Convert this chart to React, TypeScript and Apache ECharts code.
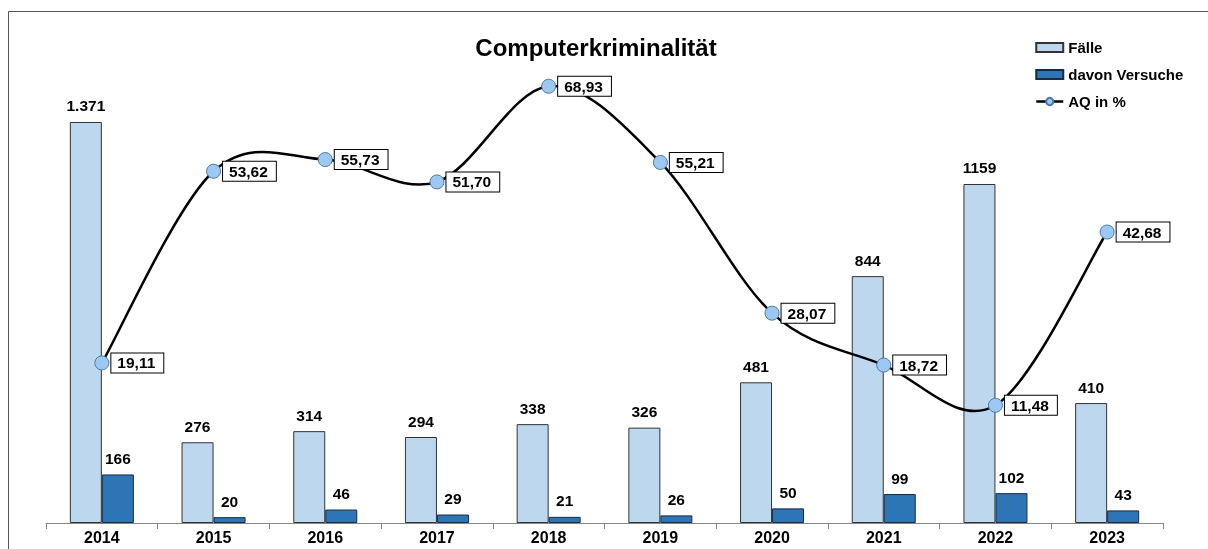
import React, { useEffect, useRef } from "react";
import * as echarts from "echarts";

const years = ["2014", "2015", "2016", "2017", "2018", "2019", "2020", "2021", "2022", "2023"];
const faelle = [1371, 276, 314, 294, 338, 326, 481, 844, 1159, 410];
const faelleLabels = ["1.371", "276", "314", "294", "338", "326", "481", "844", "1159", "410"];
const versuche = [166, 20, 46, 29, 21, 26, 50, 99, 102, 43];
const aq = [19.11, 53.62, 55.73, 51.7, 68.93, 55.21, 28.07, 18.72, 11.48, 42.68];
const aqLabels = ["19,11", "53,62", "55,73", "51,70", "68,93", "55,21", "28,07", "18,72", "11,48", "42,68"];

export default function App() {
  const ref = useRef<HTMLDivElement>(null);
  useEffect(() => {
    document.body.style.margin = "0";
    document.body.style.overflow = "hidden";
    document.documentElement.style.overflow = "hidden";
    const chart = echarts.init(ref.current!, null, { renderer: "svg" });
    const font = "Liberation Sans, Arial, sans-serif";
    const n = aq.length;
    chart.setOption({
      animation: false,
      textStyle: { fontFamily: font },
      title: {
        text: "Computerkriminalität",
        left: 591,
        textAlign: "center",
        top: 30,
        textStyle: { fontSize: 24, fontWeight: "bold", color: "#000", fontFamily: font },
      },
      legend: {
        orient: "vertical",
        left: 1030,
        top: 35,
        itemWidth: 27,
        itemHeight: 9,
        itemGap: 12,
        textStyle: { fontSize: 15, fontWeight: "bold", color: "#000", fontFamily: font },
        data: [
          { name: "Fälle", icon: "rect" },
          { name: "davon Versuche", icon: "rect" },
          { name: "AQ in %", lineStyle: { color: "#000", width: 2.5, opacity: 1 } },
        ],
      },
      graphic: [
        {
          type: "polyline",
          shape: { points: [[8.5, 549], [8.5, 11.5], [1208, 11.5]] },
          style: { stroke: "#555", lineWidth: 1, fill: "none" },
          silent: true,
        },
      ],
      grid: { left: 46, right: 45, top: 55, bottom: 26, outerBoundsMode: "none", containLabel: false },
      xAxis: {
        type: "category",
        data: years,
        axisLine: { lineStyle: { color: "#888", width: 1 } },
        axisTick: { show: true, length: 6, lineStyle: { color: "#888" } },
        axisLabel: { fontSize: 16, fontWeight: "bold", color: "#000", margin: 6, fontFamily: font },
      },
      yAxis: [
        { type: "value", min: 0, max: 1600, show: false, splitLine: { show: false } },
        { type: "value", min: -9.72, max: 74.56, show: false, splitLine: { show: false } },
      ],
      series: [
        {
          name: "Fälle",
          type: "bar",
          data: faelle,
          barWidth: 32,
          barGap: "0%",
          itemStyle: { color: "#BDD7EE", borderColor: "#333", borderWidth: 1 },
          label: {
            show: true,
            position: "top",
            distance: 8,
            fontSize: 15.5,
            fontWeight: "bold",
            color: "#000",
            formatter: (p: any) => faelleLabels[p.dataIndex],
          },
        },
        {
          name: "davon Versuche",
          type: "bar",
          data: versuche,
          barWidth: 32,
          barGap: "0%",
          itemStyle: { color: "#2E75B6", borderColor: "#1a2a40", borderWidth: 1 },
          label: {
            show: true,
            position: "top",
            distance: 8,
            fontSize: 15.5,
            fontWeight: "bold",
            color: "#000",
          },
        },
        {
          name: "AQ curve",
          type: "custom",
          yAxisIndex: 1,
          z: 4,
          silent: true,
          data: aq.map((v, i) => [i, v]),
          encode: { x: 0, y: 1 },
          renderItem: (params: any, api: any) => {
            const i = params.dataIndex;
            if (i >= n - 1) return null;
            const pt = (j: number) => {
              const k = Math.max(0, Math.min(n - 1, j));
              return api.coord([k, aq[k]]);
            };
            const p0 = pt(i - 1);
            const p1 = pt(i);
            const p2 = pt(i + 1);
            const p3 = pt(i + 2);
            return {
              type: "bezierCurve",
              shape: {
                x1: p1[0],
                y1: p1[1],
                x2: p2[0],
                y2: p2[1],
                cpx1: p1[0] + (p2[0] - p0[0]) / 6,
                cpy1: p1[1] + (p2[1] - p0[1]) / 6,
                cpx2: p2[0] - (p3[0] - p1[0]) / 6,
                cpy2: p2[1] - (p3[1] - p1[1]) / 6,
              },
              style: { stroke: "#000", lineWidth: 2.5, fill: null },
            };
          },
        },
        {
          name: "AQ in %",
          type: "line",
          yAxisIndex: 1,
          data: aq,
          symbol: "circle",
          symbolSize: 14,
          lineStyle: { color: "#000", width: 0, opacity: 0 },
          itemStyle: { color: "#9DC8F2", borderColor: "#4a78a8", borderWidth: 1 },
          z: 5,
          label: {
            show: true,
            position: "right",
            distance: 2,
            fontSize: 15.5,
            fontWeight: "bold",
            color: "#000",
            backgroundColor: "#fff",
            borderColor: "#000",
            borderWidth: 1,
            padding: [2, 8, 1, 6],
            formatter: (p: any) => aqLabels[p.dataIndex],
          },
        },
      ],
    });
    return () => chart.dispose();
  }, []);
  return (
    <div
      ref={ref}
      style={{ position: "fixed", left: 0, top: 0, width: 1208, height: 549 }}
    />
  );
}
